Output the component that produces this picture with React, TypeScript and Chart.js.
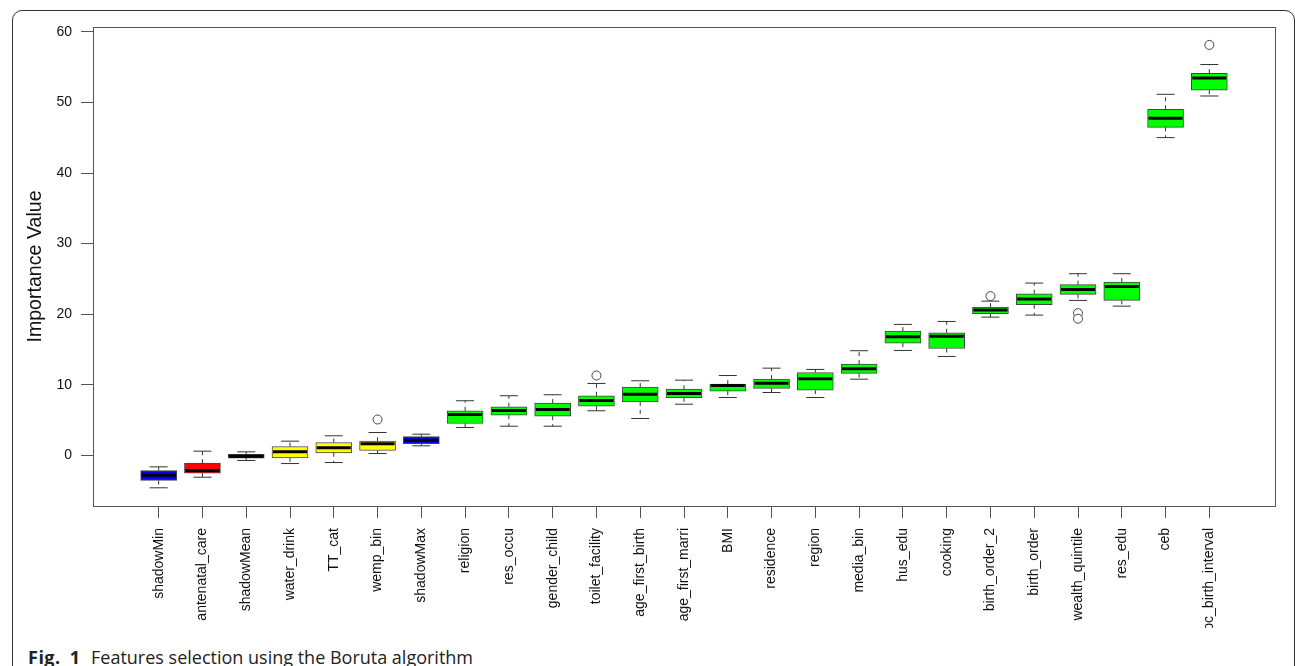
import React, { useEffect, useRef } from 'react';
import { Chart, registerables } from 'chart.js';

Chart.register(...registerables);

// Boruta feature importance: one box per feature, ordered by median importance
const FEATURES = [
  'shadowMin', 'antenatal_care', 'shadowMean', 'water_drink', 'TT_cat', 'wemp_bin',
  'shadowMax', 'religion', 'res_occu', 'gender_child', 'toilet_facility',
  'age_first_birth', 'age_first_marri', 'BMI', 'residence', 'region', 'media_bin',
  'hus_edu', 'cooking', 'birth_order_2', 'birth_order', 'wealth_quintile', 'res_edu',
  'ceb', 'pc_birth_interval',
];

// Boruta decision for each feature (shadow attributes are the reference)
const STATUS = [
  'shadow', 'rejected', 'shadow', 'tentative', 'tentative', 'tentative',
  'shadow', 'confirmed', 'confirmed', 'confirmed', 'confirmed',
  'confirmed', 'confirmed', 'confirmed', 'confirmed', 'confirmed', 'confirmed',
  'confirmed', 'confirmed', 'confirmed', 'confirmed', 'confirmed', 'confirmed',
  'confirmed', 'confirmed',
];

// Five-number summaries (whisker ends, quartiles, median)
const LOWER = [-4.62, -3.12, -0.75, -1.18, -1.04, 0.24, 1.33, 3.93, 4.11, 4.11, 6.30, 5.20, 7.23, 8.18, 8.89, 8.18, 10.78, 14.85, 14.00, 19.57, 19.86, 21.94, 21.13, 45.02, 50.92];
const Q1 = [-3.59, -2.55, -0.43, -0.37, 0.34, 0.67, 1.62, 4.50, 5.67, 5.53, 6.95, 7.57, 8.14, 9.08, 9.46, 9.22, 11.59, 15.89, 15.13, 20.06, 21.33, 22.79, 21.94, 46.48, 51.73];
const MEDIAN = [-2.84, -2.17, -0.14, 0.48, 1.05, 1.62, 2.13, 5.77, 6.34, 6.48, 7.76, 8.65, 8.75, 9.89, 10.21, 10.84, 12.26, 16.79, 16.88, 20.57, 22.13, 23.50, 23.93, 47.76, 53.48];
const Q3 = [-2.17, -1.13, 0.14, 1.23, 1.80, 1.99, 2.65, 6.30, 6.87, 7.38, 8.43, 9.65, 9.36, 10.07, 10.78, 11.73, 12.91, 17.59, 17.36, 20.99, 22.89, 24.17, 24.54, 49.04, 54.14];
const UPPER = [-1.65, 0.57, 0.48, 1.99, 2.75, 3.22, 2.98, 7.72, 8.43, 8.57, 10.17, 10.55, 10.64, 11.30, 12.34, 12.16, 14.81, 18.54, 18.96, 21.84, 24.40, 25.73, 25.73, 51.16, 55.38];

// Points beyond the whiskers
const OUTLIER_FEATURES = ['wemp_bin', 'toilet_facility', 'birth_order_2', 'wealth_quintile', 'wealth_quintile', 'pc_birth_interval'];
const OUTLIER_VALUES = [5.06, 11.30, 22.55, 20.14, 19.35, 58.16];

const Y_TICKS = [0, 10, 20, 30, 40, 50, 60];
const Y_MIN = -7.2;
const Y_MAX = 60.7;

const STATUS_FILL: Record<string, string> = {
  shadow: '#0000ff',
  rejected: '#ff0000',
  tentative: '#ffff00',
  confirmed: '#00ff00',
};

const AXIS_FONT = 'Liberation Sans, Arial, Helvetica, sans-serif';
const INK = '#111111';
const LINE = '#555555';

// Full rectangle around the plotting region
const plotFrame = {
  id: 'plotFrame',
  afterDraw(chart: any) {
    const { ctx, chartArea } = chart;
    const { left, top, right, bottom } = chartArea;
    ctx.save();
    ctx.strokeStyle = LINE;
    ctx.lineWidth = 1;
    ctx.strokeRect(
      Math.round(left) + 0.5,
      Math.round(top) + 0.5,
      Math.round(right - left),
      Math.round(bottom - top),
    );
    ctx.restore();
  },
};

function BorutaChart() {
  const canvasRef = useRef<HTMLCanvasElement | null>(null);

  useEffect(() => {
    if (!canvasRef.current) return;

    const pos = FEATURES.map((_, i) => i + 1);

    const boxes = pos.map((x, i) => ({ x, y: [Q1[i], Q3[i]] }));
    const medians = pos.map((x, i) => ({ x, y: MEDIAN[i] }));
    const caps: { x: number; y: number }[] = [];
    const whiskers: { x: number; y: number | null }[] = [];
    pos.forEach((x, i) => {
      caps.push({ x, y: UPPER[i] }, { x, y: LOWER[i] });
      whiskers.push(
        { x, y: Q3[i] }, { x, y: UPPER[i] }, { x, y: null },
        { x, y: Q1[i] }, { x, y: LOWER[i] }, { x, y: null },
      );
    });
    const outliers = OUTLIER_FEATURES.map((f, k) => ({
      x: FEATURES.indexOf(f) + 1,
      y: OUTLIER_VALUES[k],
    }));

    const chart = new Chart(canvasRef.current, {
      type: 'bar',
      data: {
        datasets: [
          {
            type: 'line',
            data: whiskers as any,
            borderColor: '#333333',
            borderWidth: 1,
            borderDash: [4, 4],
            pointRadius: 0,
            spanGaps: false,
            fill: false,
            order: 4,
          } as any,
          {
            type: 'bar',
            data: boxes as any,
            backgroundColor: STATUS.map((s) => STATUS_FILL[s]),
            borderColor: '#444444',
            borderWidth: 1,
            borderSkipped: false,
            barThickness: 36,
            order: 3,
          } as any,
          {
            type: 'scatter',
            data: caps,
            pointStyle: 'line',
            pointRadius: 9,
            pointBorderWidth: 1,
            pointBorderColor: '#333333',
            order: 2,
          } as any,
          {
            type: 'scatter',
            data: medians,
            pointStyle: 'line',
            pointRadius: 17,
            pointBorderWidth: 3,
            pointBorderColor: '#000000',
            order: 1,
          } as any,
          {
            type: 'scatter',
            data: outliers,
            pointStyle: 'circle',
            pointRadius: 4.5,
            pointBorderWidth: 1,
            pointBorderColor: '#444444',
            pointBackgroundColor: '#ffffff',
            order: 0,
          } as any,
        ],
      },
      options: {
        responsive: false,
        animation: false,
        devicePixelRatio: 1,
        events: [],
        layout: { padding: { left: 0, top: 27, right: 15, bottom: 0 } },
        plugins: {
          legend: { display: false },
          tooltip: { enabled: false },
        },
        scales: {
          x: {
            type: 'linear',
            min: -0.5,
            max: FEATURES.length + 1.5,
            offset: false,
            afterBuildTicks: (scale: any) => {
              scale.ticks = pos.map((v) => ({ value: v }));
            },
            afterFit: (scale: any) => {
              scale.height = 122;
            },
            border: { display: false },
            grid: {
              display: true,
              offset: false,
              drawOnChartArea: false,
              drawTicks: true,
              tickLength: 12,
              tickColor: LINE,
              tickWidth: 1,
            },
            ticks: {
              autoSkip: false,
              maxRotation: 90,
              minRotation: 90,
              padding: 10,
              color: INK,
              font: { family: AXIS_FONT, size: 14 },
              callback: (v: any) => FEATURES[Number(v) - 1] ?? '',
            },
          },
          y: {
            type: 'linear',
            min: Y_MIN,
            max: Y_MAX,
            afterBuildTicks: (scale: any) => {
              scale.ticks = Y_TICKS.map((v) => ({ value: v }));
            },
            afterFit: (scale: any) => {
              scale.width = 93;
            },
            border: { display: false },
            grid: {
              display: true,
              offset: false,
              drawOnChartArea: false,
              drawTicks: true,
              tickLength: 12,
              tickColor: LINE,
              tickWidth: 1,
            },
            ticks: {
              padding: 9,
              color: INK,
              font: { family: AXIS_FONT, size: 14 },
            },
            title: {
              display: true,
              text: 'Importance Value',
              color: INK,
              font: { family: AXIS_FONT, size: 19.6, weight: 'normal' },
              padding: { top: 24, bottom: 0 },
            },
          },
        },
      } as any,
      plugins: [plotFrame],
    });

    return () => chart.destroy();
  }, []);

  return (
    <canvas
      ref={canvasRef}
      width={1295}
      height={628}
      style={{ position: 'absolute', left: 0, top: 0, width: 1295, height: 628 }}
    />
  );
}

export default function App() {
  return (
    <div
      style={{
        position: 'fixed',
        left: 0,
        top: 0,
        width: 1295,
        height: 666,
        overflow: 'hidden',
        background: '#ffffff',
      }}
    >
      <div
        style={{
          position: 'absolute',
          left: 12,
          top: 10,
          width: 1283,
          height: 720,
          border: '1px solid #333333',
          borderRadius: 10,
          boxSizing: 'border-box',
        }}
      />
      <BorutaChart />
      <div
        style={{
          position: 'absolute',
          left: 28,
          top: 647,
          fontFamily: '"Open Sans", "Noto Sans", sans-serif',
          fontSize: 18,
          lineHeight: '20px',
          color: '#222222',
          whiteSpace: 'nowrap',
        }}
      >
        <span
          style={{
            display: 'inline-block',
            width: 63,
            fontWeight: 700,
            letterSpacing: 0.5,
            wordSpacing: 4,
          }}
        >
          Fig. 1
        </span>
        <span>Features selection using the Boruta algorithm</span>
      </div>
    </div>
  );
}
